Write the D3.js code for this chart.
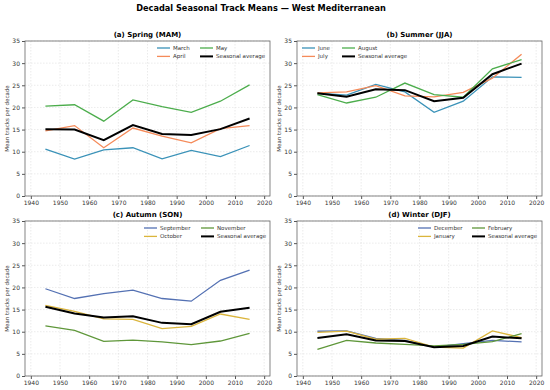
<!DOCTYPE html>
<html><head><meta charset="utf-8">
<script src="https://cdn.jsdelivr.net/npm/d3@7"></script>
<style>body{margin:0;background:#fff}svg{display:block}text{font-family:"DejaVu Sans",sans-serif}</style>
</head><body><svg id="c" width="550" height="390"></svg>
<script>
const decades = [1945,1955,1965,1975,1985,1995,2005,2015];
const xTicks = [1940,1950,1960,1970,1980,1990,2000,2010,2020];
const yTicks = [0,5,10,15,20,25,30,35];

const march = [10.6,8.35,10.4,10.9,8.4,10.3,8.9,11.4];
const april = [14.7,15.9,10.9,15.35,13.5,12.0,15.2,15.9];
const may = [20.3,20.6,16.9,21.7,20.2,18.9,21.4,25.1];
const springAvg = [15.1,15.0,12.6,16.0,14.0,13.8,15.1,17.5];

const june = [23.2,22.8,25.2,23.5,18.9,21.4,26.9,26.8];
const july = [23.3,23.5,24.9,22.6,22.4,23.4,26.6,32.0];
const august = [22.9,21.0,22.3,25.5,22.9,22.3,28.7,30.8];
const summerAvg = [23.2,22.4,24.1,23.9,21.4,22.2,27.5,29.9];

const september = [19.7,17.5,18.6,19.4,17.5,16.9,21.6,23.9];
const october = [15.95,14.6,12.9,12.8,10.7,11.2,14.0,12.8];
const november = [11.3,10.3,7.8,8.1,7.7,7.1,7.9,9.6];
const autumnAvg = [15.65,14.1,13.2,13.5,12.0,11.7,14.5,15.4];

const december = [10.1,10.2,8.5,8.05,6.5,7.3,8.05,7.7];
const january = [9.85,10.15,8.3,8.5,6.5,6.3,10.2,8.65];
const february = [6.0,8.05,7.45,7.15,6.8,7.15,7.75,9.55];
const winterAvg = [8.6,9.4,8.0,7.9,6.5,6.8,8.9,8.5];

const cA = ["#3a92b8","#f58b5a","#4cad4c"];
const cB = ["#5471b3","#dbb53c","#5f973a"];

const panels = [
  {title:"(a) Spring (MAM)", x:25, y:41, names:["March","April","May"], data:[march,april,may], avg:springAvg, colors:cA, lx:[132,175]},
  {title:"(b) Summer (JJA)", x:297, y:41, names:["June","July","August"], data:[june,july,august], avg:summerAvg, colors:cA, lx:[5,45]},
  {title:"(c) Autumn (SON)", x:25, y:221, names:["September","October","November"], data:[september,october,november], avg:autumnAvg, colors:cB, lx:[119,176]},
  {title:"(d) Winter (DJF)", x:297, y:221, names:["December","January","February"], data:[december,january,february], avg:winterAvg, colors:cB, lx:[121,175]}
];
const W = 245, H = 155;
const svg = d3.select("#c");
svg.append("text").attr("x",261).attr("y",11).attr("text-anchor","middle")
  .attr("font-size",8.2).attr("font-weight","bold").text("Decadal Seasonal Track Means — West Mediterranean");

panels.forEach(p=>{
  const g = svg.append("g").attr("transform",`translate(${p.x},${p.y})`);
  const x = d3.scaleLinear().domain([1938,2022]).range([0,W]);
  const y = d3.scaleLinear().domain([0,35]).range([H,0]);
  g.append("g").selectAll("line").data(xTicks).join("line")
    .attr("x1",d=>x(d)).attr("x2",d=>x(d)).attr("y1",0).attr("y2",H)
    .attr("stroke","#ddd").attr("stroke-width",0.6).attr("stroke-dasharray","1.5,1.5");
  g.append("g").selectAll("line").data(yTicks).join("line")
    .attr("y1",d=>y(d)).attr("y2",d=>y(d)).attr("x1",0).attr("x2",W)
    .attr("stroke","#ddd").attr("stroke-width",0.6).attr("stroke-dasharray","1.5,1.5");
  const line = d3.line().x((d,i)=>x(decades[i])).y(d=>y(d));
  p.data.forEach((s,k)=>{
    g.append("path").attr("d",line(s)).attr("fill","none").attr("stroke",p.colors[k]).attr("stroke-width",1.3);
  });
  g.append("path").attr("d",line(p.avg)).attr("fill","none").attr("stroke","#000").attr("stroke-width",2);
  const xa = g.append("g").attr("transform",`translate(0,${H})`).call(d3.axisBottom(x).tickValues(xTicks).tickFormat(d3.format("d")).tickSize(3).tickPadding(2));
  const ya = g.append("g").call(d3.axisLeft(y).tickValues(yTicks).tickSize(3).tickPadding(2));
  [xa,ya].forEach(a=>{a.select(".domain").remove(); a.selectAll("text").attr("font-size",6).attr("fill","#333").attr("font-family","DejaVu Sans"); a.selectAll("line").attr("stroke","#555");});
  g.append("rect").attr("width",W).attr("height",H).attr("fill","none").attr("stroke","#666").attr("stroke-width",0.8);
  g.append("text").attr("x",W/2).attr("y",-4).attr("text-anchor","middle").attr("font-size",7).attr("font-weight","bold").text(p.title);
  g.append("text").attr("transform",`translate(-16,${H/2}) rotate(-90)`).attr("text-anchor","middle").attr("font-size",5.5).attr("fill","#333").text("Mean tracks per decade");
  const items = [{n:p.names[0],c:p.colors[0],w:1.3},{n:p.names[1],c:p.colors[1],w:1.3},{n:p.names[2],c:p.colors[2],w:1.3},{n:"Seasonal average",c:"#000",w:2}];
  const pos = [[0,0],[0,1],[1,0],[1,1]];
  items.forEach((it,i)=>{
    const cx = p.lx[pos[i][0]], cy = 7 + pos[i][1]*8.4;
    g.append("line").attr("x1",cx).attr("x2",cx+13).attr("y1",cy).attr("y2",cy).attr("stroke",it.c).attr("stroke-width",it.w);
    g.append("text").attr("x",cx+16).attr("y",cy+2).attr("font-size",5.5).attr("fill","#333").text(it.n);
  });
});
</script></body></html>
